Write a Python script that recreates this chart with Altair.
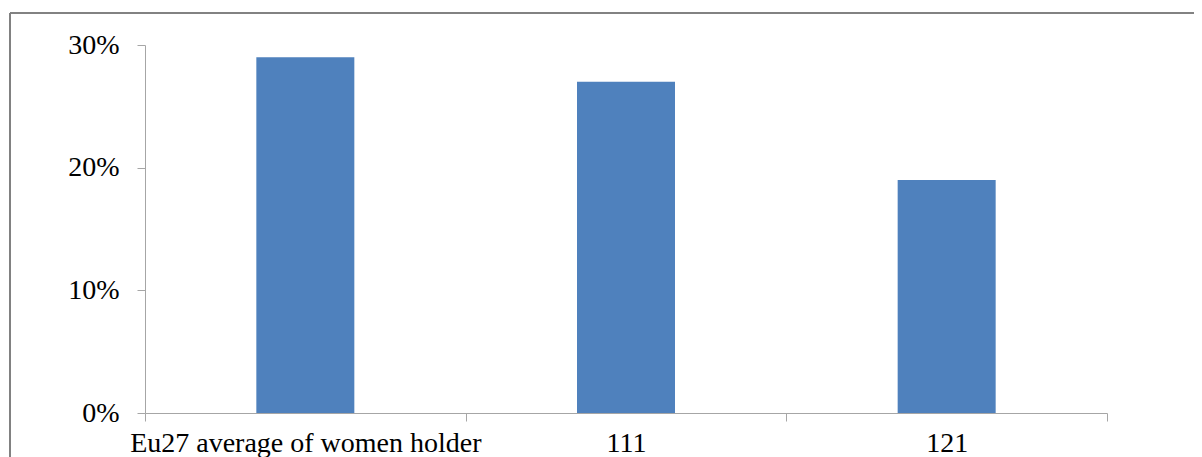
import altair as alt
import pandas as pd

categories = ["Eu27 average of women holder", "111", "121"]
values = [0.29, 0.27, 0.19]

df = pd.DataFrame({"category": categories, "value": values})

FONT = "Liberation Serif"
AXIS_GRAY = "#A6A6A6"

x_enc = alt.X(
    "category:N",
    sort=categories,
    title=None,
    scale=alt.Scale(paddingInner=0, paddingOuter=0),
    axis=alt.Axis(
        labelAngle=0,
        tickBand="extent",
        tickSize=8,
        tickColor=AXIS_GRAY,
        domainColor=AXIS_GRAY,
        labelFont=FONT,
        labelFontSize=28,
        labelColor="#000000",
        labelPadding=8,
        labelLimit=0,
        grid=False,
    ),
)

y_enc = alt.Y(
    "value:Q",
    title=None,
    scale=alt.Scale(domain=[0, 0.3], nice=False),
    axis=alt.Axis(
        values=[0, 0.1, 0.2, 0.3],
        format=".0%",
        tickSize=8,
        tickColor=AXIS_GRAY,
        domainColor=AXIS_GRAY,
        labelFont=FONT,
        labelFontSize=28,
        labelColor="#000000",
        labelPadding=18,
        grid=False,
    ),
)

bars = alt.Chart(df).mark_bar(color="#4F81BD", size=98).encode(x=x_enc, y=y_enc)

frame_left = alt.Chart(df).mark_rule(color="#808080", strokeWidth=1.6, clip=False).encode(
    x=alt.value(-135), y=alt.value(-32), y2=alt.value(500)
)
frame_top = alt.Chart(df).mark_rule(color="#808080", strokeWidth=1.6, clip=False).encode(
    x=alt.value(-135), x2=alt.value(1200), y=alt.value(-32)
)

chart = (
    alt.layer(bars, frame_left, frame_top)
    .properties(
        width=962,
        height=368,
        background="white",
        autosize=alt.AutoSizeParams(type="none"),
        padding={"left": 137, "top": 37, "right": 87, "bottom": 44},
    )
    .configure_view(strokeWidth=0, stroke=None)
)

chart.save("out.html", embed_options={"renderer": "svg", "actions": False})
